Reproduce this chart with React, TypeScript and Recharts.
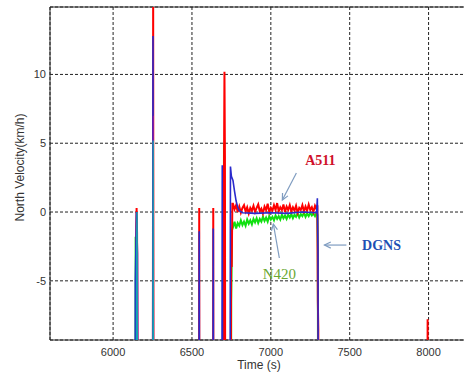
import {
  LineChart,
  Line,
  XAxis,
  YAxis,
  CartesianGrid,
  ReferenceArea,
  ReferenceLine,
  ReferenceDot,
} from 'recharts';

type Pt = [number, number];

const timeTicks = [6000, 6500, 7000, 7500, 8000];
const velTicks = [-5, 0, 5, 10];

// steady stretch, one sample every 10 s
const plateauTime = [
  6760, 6770, 6780, 6790, 6800, 6810, 6820, 6830, 6840, 6850, 6860, 6870, 6880, 6890,
  6900, 6910, 6920, 6930, 6940, 6950, 6960, 6970, 6980, 6990, 7000, 7010, 7020, 7030,
  7040, 7050, 7060, 7070, 7080, 7090, 7100, 7110, 7120, 7130, 7140, 7150, 7160, 7170,
  7180, 7190, 7200, 7210, 7220, 7230, 7240, 7250, 7260, 7270, 7280, 7290,
];

const a511Plateau = [
  0.6, 0.2, 0.5, 0.0, 0.4, -0.05, 0.3, 0.5, 0.05, 0.35, -0.1, 0.3, 0.1, 0.45,
  0.0, 0.3, 0.55, 0.05, 0.25, -0.1, 0.4, 0.15, 0.6, 0.0, 0.3, 0.1, 0.5, 0.15,
  0.65, 0.05, 0.35, 0.15, 0.55, 0.0, 0.4, 0.15, 0.5, 0.05, 0.35, 0.1, 0.45, -0.05,
  0.3, 0.15, 0.5, 0.05, 0.4, 0.1, 0.55, 0.15, 0.35, 0.0, 0.45, 0.2,
];

const n420Plateau = [
  -1.1, -0.7, -1.2, -0.8, -1.0, -0.6, -0.95, -0.7, -1.0, -0.55, -0.85, -0.6, -0.9, -0.5,
  -0.75, -0.45, -0.8, -0.5, -0.7, -0.35, -0.65, -0.4, -0.7, -0.3, -0.55, -0.35, -0.6, -0.25,
  -0.5, -0.3, -0.55, -0.2, -0.45, -0.25, -0.5, -0.2, -0.4, -0.15, -0.45, -0.2, -0.35, -0.1,
  -0.4, -0.15, -0.3, -0.05, -0.35, -0.1, -0.3, -0.05, -0.25, -0.1, -0.3, -0.05,
];

// spikes (values of -30 / 16 sit outside the axis range and get clipped)
const a511Before: Pt[] = [
  [6143, -30], [6147, -1], [6149, 0.3], [6152, -1.5], [6158, -30],
  [6251, -30], [6254, 16], [6257, -30],
  [6544, -30], [6546, 0.3], [6548, -30],
  [6633, -30], [6635, 0.3], [6637, -30],
  [6698, -30], [6702, 0], [6704, 5.5], [6706, 10.2], [6709, 4], [6712, -30],
  [6744, -30], [6748, -3.3], [6752, -4], [6756, 0.6],
];
const a511After: Pt[] = [
  [7295, 0.5], [7298, -6.5], [7301, -8.5], [7303, -30],
  [7991, -30], [7994, -7.8], [7997, -30],
];

const n420Before: Pt[] = [
  [6140, -30], [6143, -1.8], [6146, -4], [6149, -30],
  [6700, -30], [6703, 5], [6706, -30],
  [6745, -30], [6749, -6.5], [6754, -1.3],
];
const n420After: Pt[] = [[7295, -0.2], [7298, -2.8], [7301, -30]];

const dgnsTrace: Pt[] = [
  [6139, -30], [6141, -5], [6144, -3], [6148, 0], [6152, -2], [6156, -30],
  [6250, -30], [6253, 12.8], [6256, -30],
  [6543, -30], [6546, -1.4], [6549, -30],
  [6632, -30], [6635, -1.2], [6638, -30],
  [6688, -30], [6692, 3.4], [6696, -30],
  [6740, -30], [6744, 3.3], [6750, 2.6], [6760, 2.3], [6770, 1.5], [6780, 0.8],
  [6790, 0.35], [6800, 0.1], [6820, -0.05], [6900, -0.1], [7000, -0.05],
  [7100, -0.1], [7200, 0], [7290, -0.05], [7295, 1.0], [7297, -1], [7299, -3], [7302, -30],
];

const cyanTrace: Pt[] = [
  [6146, -30], [6149, -2], [6152, 0], [6158, -30],
  [6251, -30], [6254, 5.2], [6257, -30],
];
const purpleTrace: Pt[] = [
  [6147, -30], [6150, -0.8], [6156, -3], [6163, -30],
  [6252, -30], [6255, 7], [6258, -30],
];

const rows = (pts: Pt[]) => pts.map(([t, v]) => ({ t, v }));
const withPlateau = (before: Pt[], vals: number[], after: Pt[]) =>
  rows([...before, ...plateauTime.map((t, i) => [t, vals[i]] as Pt), ...after]);

const a511Data = withPlateau(a511Before, a511Plateau, a511After);
const n420Data = withPlateau(n420Before, n420Plateau, n420After);
const dgnsData = rows(dgnsTrace);
const cyanData = rows(cyanTrace);
const purpleData = rows(purpleTrace);

const tickStyle = { fontFamily: 'Liberation Sans, Arial, sans-serif', fontSize: 11, fill: '#333' };
const arrowColor = '#7f9cc0';

// open-headed arrow drawn by ReferenceLine, pointing at (x2, y2)
const Arrow = (props: any) => {
  const { x1, y1, x2, y2 } = props;
  const a = Math.atan2(y2 - y1, x2 - x1);
  const len = 7;
  const s = 0.45;
  const h1 = `${x2 - len * Math.cos(a - s)},${y2 - len * Math.sin(a - s)}`;
  const h2 = `${x2 - len * Math.cos(a + s)},${y2 - len * Math.sin(a + s)}`;
  return (
    <g stroke={arrowColor} strokeWidth={1.2} fill="none">
      <line x1={x1} y1={y1} x2={x2} y2={y2} />
      <polyline points={`${h1} ${x2},${y2} ${h2}`} />
    </g>
  );
};

const YTitle = (props: any) => {
  const vb = props.viewBox || { x: 0, y: 7, height: 333 };
  const x = 20;
  const y = vb.y + vb.height / 2 - 6;
  return (
    <text
      x={x}
      y={y}
      transform={`rotate(-90 ${x} ${y})`}
      textAnchor="middle"
      dominantBaseline="central"
      style={{ fontFamily: 'Liberation Sans, Arial, sans-serif', fontSize: 12, fill: '#333' }}
    >
      North Velocity(km/h)
    </text>
  );
};

const tag = (fill: string, weight: string, size: number) => ({
  position: 'center' as const,
  fill,
  fontSize: size,
  fontWeight: weight,
  fontFamily: 'Liberation Serif, Times New Roman, serif',
});

export default function App() {
  return (
    <div style={{ position: 'absolute', left: 0, top: 0, width: 464, height: 378, overflow: 'hidden', background: '#fff' }}>
      <LineChart width={473} height={378} margin={{ top: 7, right: 5, bottom: 8, left: 0 }}>
        <CartesianGrid stroke="#222" strokeDasharray="3 2" />
        <XAxis
          type="number"
          dataKey="t"
          domain={[5600, 8250]}
          ticks={timeTicks}
          allowDataOverflow
          axisLine={false}
          tickLine={false}
          tick={tickStyle}
          height={30}
          label={{
            value: 'Time (s)',
            position: 'insideBottom',
            offset: 1,
            style: { fontFamily: 'Liberation Sans, Arial, sans-serif', fontSize: 12, fill: '#333' },
          }}
        />
        <YAxis
          type="number"
          dataKey="v"
          domain={[-9.3, 14.9]}
          ticks={velTicks}
          allowDataOverflow
          axisLine={false}
          tickLine={false}
          tickSize={3}
          tickMargin={1}
          tick={tickStyle}
          width={50}
          label={{ content: <YTitle /> }}
        />
        <ReferenceArea x1={5600} x2={8250} y1={-9.3} y2={14.9} fill="none" stroke="#222" strokeWidth={1} />

        <Line data={n420Data} dataKey="v" stroke="#10e010" strokeWidth={2} dot={false} isAnimationActive={false} />
        <Line data={a511Data} dataKey="v" stroke="#ff0000" strokeWidth={2} dot={false} isAnimationActive={false} />
        <Line data={dgnsData} dataKey="v" stroke="#2a2acc" strokeWidth={1.6} dot={false} isAnimationActive={false} />
        <Line data={purpleData} dataKey="v" stroke="#8a1aa0" strokeWidth={1.3} dot={false} isAnimationActive={false} />
        <Line data={cyanData} dataKey="v" stroke="#10a8b0" strokeWidth={1.3} dot={false} isAnimationActive={false} />

        <ReferenceLine segment={[{ x: 7162, y: 2.84 }, { x: 7073, y: 0.87 }]} shape={Arrow} />
        <ReferenceLine segment={[{ x: 7054, y: -3.34 }, { x: 7016, y: -0.87 }]} shape={Arrow} />
        <ReferenceLine segment={[{ x: 7479, y: -2.4 }, { x: 7340, y: -2.4 }]} shape={Arrow} />

        <ReferenceDot x={7314} y={3.78} r={0} fill="none" stroke="none" label={{ value: 'A511', ...tag('#d0102a', 'bold', 14) }} />
        <ReferenceDot x={7702} y={-2.4} r={0} fill="none" stroke="none" label={{ value: 'DGNS', ...tag('#1e50b4', 'bold', 14) }} />
        <ReferenceDot x={7054} y={-4.5} r={0} fill="none" stroke="none" label={{ value: 'N420', ...tag('#6aa832', 'normal', 15) }} />
      </LineChart>
    </div>
  );
}
